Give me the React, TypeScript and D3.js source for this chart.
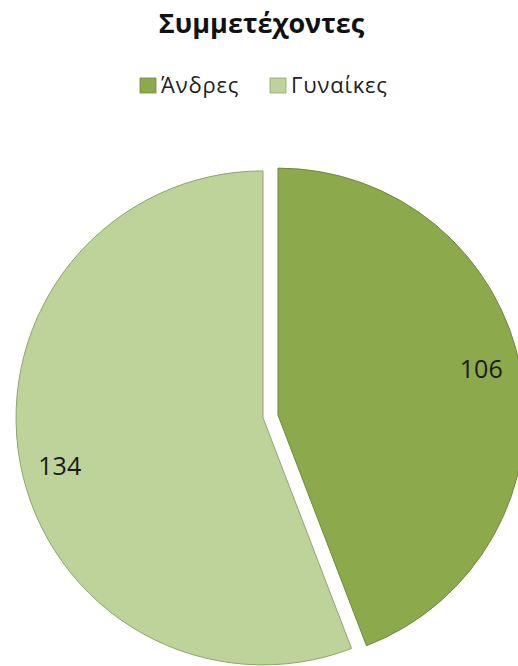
import React from "react";
import * as d3 from "d3";

const categories = ["Άνδρες", "Γυναίκες"];
const values = [106, 134];
const colors = ["#8CAA4B", "#BDD39A"];
const strokes = ["#6E8A3C", "#8FA56E"];
const title = "Συμμετέχοντες";

const W = 518;
const H = 666;
const cx = 270.5;
const cy = 416.5;
const R = 247;
const explode = 7.6;
const font = "'Open Sans', 'Noto Sans', sans-serif";

export default function App() {
  const pie = d3
    .pie<number>()
    .sort(null)
    .value((d) => d)
    .startAngle(0)
    .endAngle(2 * Math.PI);
  const arcs = pie(values);
  const arc = d3.arc<d3.PieArcDatum<number>>().innerRadius(0).outerRadius(R);

  const legendX = [140, 270];

  return (
    <svg
      width={W}
      height={H}
      style={{ position: "absolute", left: 0, top: 0, display: "block", background: "#fff" }}
    >
      <text
        x={261.5}
        y={32.5}
        textAnchor="middle"
        fontFamily={font}
        fontWeight="bold"
        fontSize={27}
        fill="#111"
      >
        {title}
      </text>
      <g fontFamily={font} fontSize={22} fill="#222" letterSpacing={0.8}>
        {categories.map((c, i) => {
          const x0 = legendX[i];
          return (
            <g key={c}>
              <rect x={x0} y={78} width={16} height={15} fill={colors[i]} stroke={strokes[i]} strokeWidth={0.8} />
              <text x={x0 + 21} y={93}>
                {c}
              </text>
            </g>
          );
        })}
      </g>
      {arcs.map((a, i) => {
        const mid = (a.startAngle + a.endAngle) / 2 - 0.045;
        const emid = (a.startAngle + a.endAngle) / 2;
        const ox = Math.sin(emid) * explode;
        const oy = -Math.cos(emid) * explode;
        const lr = R * 0.845;
        const lx = Math.sin(mid) * lr;
        const ly = -Math.cos(mid) * lr;
        return (
          <g key={i} transform={`translate(${cx + ox},${cy + oy})`}>
            <path d={arc(a) || ""} fill={colors[i]} stroke={strokes[i]} strokeWidth={1} />
            <text
              x={lx}
              y={ly}
              textAnchor="middle"
              dominantBaseline="central"
              fontFamily={font}
              fontSize={25}
              fill="#1a1a1a"
            >
              {values[i]}
            </text>
          </g>
        );
      })}
    </svg>
  );
}
